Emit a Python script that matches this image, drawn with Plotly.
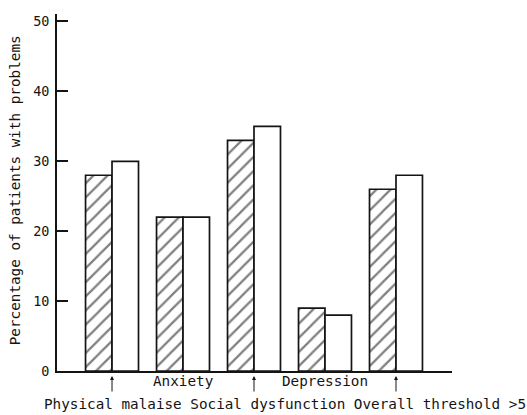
import plotly.graph_objects as go

# Problem categories along the x axis
categories = ["Physical malaise", "Anxiety", "Social dysfunction", "Depression", "Overall threshold"]
# Percentage of patients with problems, two groups per category
hatched_values = [28, 22, 33, 9, 26]
open_values = [30, 22, 35, 8, 28]
y_ticks = [0, 10, 20, 30, 40, 50]

# Labels written under the axis: upper row centred on its category,
# lower row is one running line with arrows pointing to its categories
upper_labels = {"Anxiety": "Anxiety", "Depression": "Depression"}
lower_line = "Physical malaise Social dysfunction Overall threshold >5"
arrow_targets = ["Physical malaise", "Social dysfunction", "Overall threshold"]

W, H = 527, 415
L, R, T, B = 57, 75, 13.5, 44
plot_w = W - L - R
plot_h = H - T - B
px_per_unit = 7.0
y_max = plot_h / px_per_unit

FONT = "DejaVu Sans Mono"
INK = "#141414"

fig = go.Figure()
fig.add_trace(go.Bar(
    x=categories, y=hatched_values,
    marker=dict(
        color="white",
        line=dict(color=INK, width=1.7),
        pattern=dict(shape="/", fgcolor="black", bgcolor="white", size=10, solidity=0.22),
    ),
    showlegend=False,
))
fig.add_trace(go.Bar(
    x=categories, y=open_values,
    marker=dict(color="white", line=dict(color=INK, width=1.7)),
    showlegend=False,
))

annotations = []
# y-axis title
annotations.append(dict(
    xref="paper", yref="paper",
    x=(15 - L) / plot_w, y=(371 - 190) / plot_h,
    text="Percentage of patients with problems", textangle=-90,
    showarrow=False, xanchor="center", yanchor="middle",
    font=dict(family=FONT, size=14.3, color=INK),
))
# upper row labels
for cat, txt in upper_labels.items():
    annotations.append(dict(
        xref="x", yref="paper", x=cat, y=(371 - 381) / plot_h,
        text=txt, showarrow=False, xanchor="center", yanchor="middle",
        font=dict(family=FONT, size=14.3, color=INK),
    ))
# lower running line
annotations.append(dict(
    xref="paper", yref="paper", x=(42 - L) / plot_w, y=(371 - 404) / plot_h,
    text=lower_line, showarrow=False, xanchor="left", yanchor="middle",
    font=dict(family=FONT, size=14.3, color=INK),
))
# small upward arrows
for cat in arrow_targets:
    annotations.append(dict(
        xref="x", yref="paper", x=cat, y=(371 - 376) / plot_h,
        text="", showarrow=True, ax=0, ay=17,
        arrowhead=2, arrowsize=0.8, arrowwidth=1, arrowcolor=INK,
    ))

fig.update_layout(
    width=W, height=H,
    margin=dict(l=L, r=R, t=T, b=B, pad=0),
    paper_bgcolor="white", plot_bgcolor="white",
    barmode="group", bargap=0.254, bargroupgap=0,
    xaxis=dict(
        type="category", range=[-0.775, 4.789],
        showticklabels=False, ticks="", showgrid=False, zeroline=False,
        showline=True, linecolor=INK, linewidth=1.7,
    ),
    yaxis=dict(
        range=[0, y_max], tickvals=y_ticks, ticks="inside", ticklen=11,
        tickwidth=1.5, tickcolor=INK, showgrid=False, zeroline=False,
        showline=True, linecolor=INK, linewidth=1.7,
        tickfont=dict(family=FONT, size=13.5, color=INK),
        ticklabelstandoff=3,
    ),
    annotations=annotations,
)

fig.write_html("out.html")
